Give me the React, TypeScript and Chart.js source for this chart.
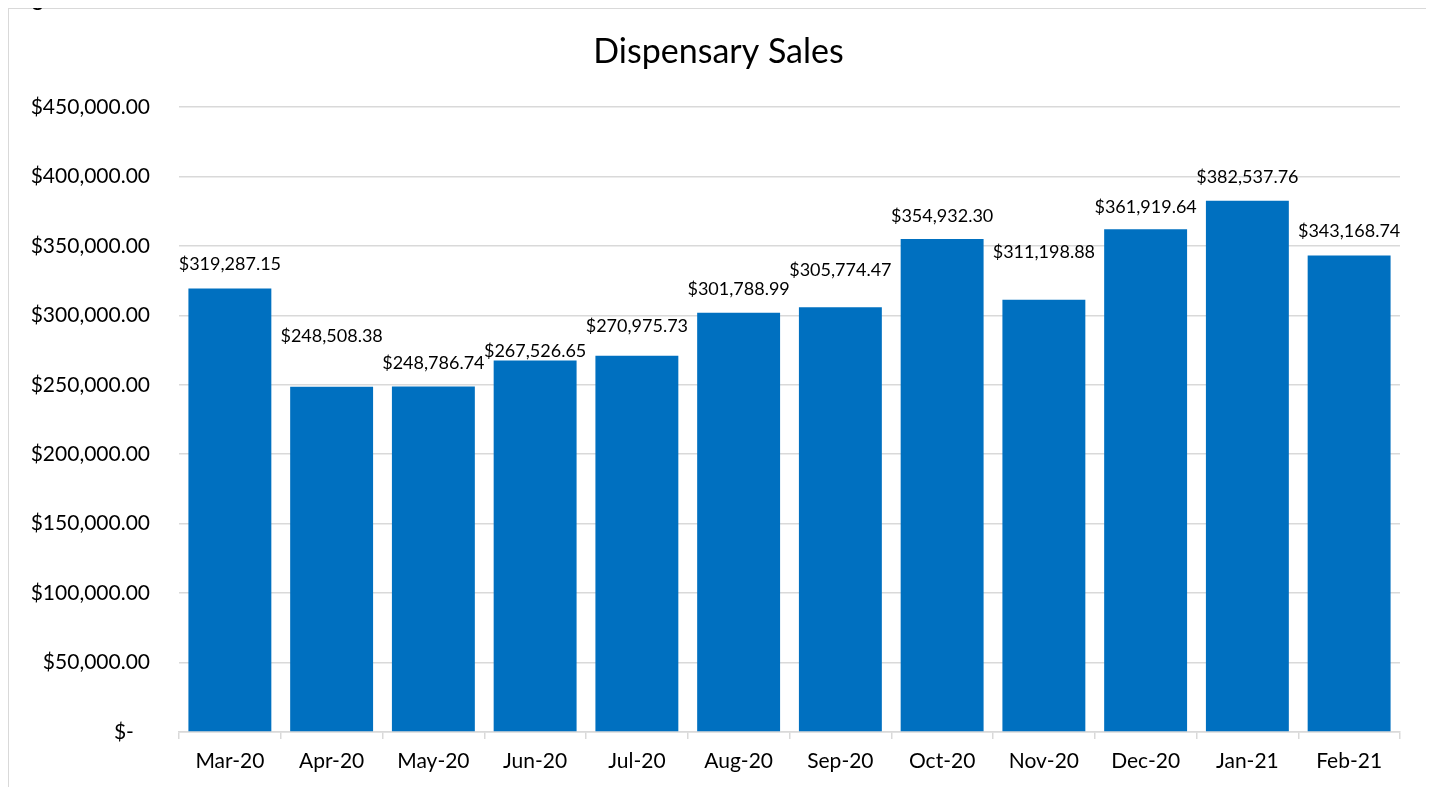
import React, { useEffect, useRef } from "react";
import { Chart, registerables } from "chart.js";

Chart.register(...registerables);

const categories = ["Mar-20", "Apr-20", "May-20", "Jun-20", "Jul-20", "Aug-20", "Sep-20", "Oct-20", "Nov-20", "Dec-20", "Jan-21", "Feb-21"];
const sales = [319287.15, 248508.38, 248786.74, 267526.65, 270975.73, 301788.99, 305774.47, 354932.3, 311198.88, 361919.64, 382537.76, 343168.74];
const yTicks = [0, 50000, 100000, 150000, 200000, 250000, 300000, 350000, 400000, 450000];
const chartTitle = "Dispensary Sales";

// distance (px) from bar top to data label centre, mimicking the reference's label placement
const labelLift = [24, 51, 23, 9, 29, 24, 37, 23, 48, 22, 24, 24];

const FONT = "Lato, 'Open Sans', sans-serif";

const money = (v: number) =>
  "$" + v.toLocaleString("en-US", { minimumFractionDigits: 2, maximumFractionDigits: 2 });

const CANVAS_W = 1419;
const CANVAS_H = 780;
const AREA_LEFT = 170;
const AREA_RIGHT = 1391;
const AREA_TOP = 98;
const AREA_BOTTOM = 723;

const overlayPlugin = {
  id: "overlay",
  afterDatasetsDraw(chart: any) {
    const ctx = chart.ctx;
    ctx.save();
    // title
    ctx.fillStyle = "#000";
    ctx.font = `34px ${FONT}`;
    ctx.textAlign = "center";
    ctx.textBaseline = "middle";
    ctx.fillText(chartTitle, CANVAS_W / 2, 43);
    // data labels
    const meta = chart.getDatasetMeta(0);
    ctx.font = `18px ${FONT}`;
    meta.data.forEach((bar: any, i: number) => {
      ctx.fillText(money(sales[i]), bar.x, bar.y - labelLift[i]);
    });
    ctx.restore();
  },
};

export default function App() {
  const ref = useRef<HTMLCanvasElement | null>(null);
  useEffect(() => {
    if (!ref.current) return;
    const chart = new Chart(ref.current, {
      type: "bar",
      data: {
        labels: categories,
        datasets: [
          {
            data: sales,
            backgroundColor: "#0070C0",
            borderWidth: 0,
            barPercentage: 0.815,
            categoryPercentage: 1,
          },
        ],
      },
      options: {
        animation: false,
        responsive: false,
        maintainAspectRatio: false,
        layout: { padding: { top: AREA_TOP, right: CANVAS_W - AREA_RIGHT, left: 0, bottom: 0 } },
        plugins: {
          legend: { display: false },
          title: { display: false },
          tooltip: { enabled: false },
        },
        scales: {
          x: {
            offset: true,
            grid: {
              offset: true,
              drawOnChartArea: false,
              drawTicks: true,
              tickLength: 7,
              color: "#d9d9d9",
              lineWidth: 1.5,
            },
            border: { display: true, color: "#d9d9d9", width: 1.5 },
            ticks: {
              color: "#000",
              font: { family: FONT, size: 21 },
              padding: 10,
              maxRotation: 0,
              autoSkip: false,
            },
            afterFit(scale: any) {
              scale.height = CANVAS_H - AREA_BOTTOM;
            },
          },
          y: {
            min: 0,
            max: 450000,
            afterBuildTicks(scale: any) {
              scale.ticks = yTicks.map((v) => ({ value: v }));
            },
            grid: { color: "#d9d9d9", lineWidth: 1.5, drawTicks: false },
            border: { display: false },
            ticks: {
              color: "#000",
              font: { family: FONT, size: 21 },
              padding: 29,
              callback: (v: any) => (Number(v) === 0 ? "$-   " : money(Number(v))),
            },
            afterFit(scale: any) {
              scale.width = AREA_LEFT;
            },
          },
        },
      },
      plugins: [overlayPlugin],
    });
    return () => chart.destroy();
  }, []);

  return (
    <div style={{ position: "relative" }}>
      <div
        style={{
          position: "absolute",
          left: 8,
          top: -21,
          font: `bold 20px ${FONT}`,
          color: "#000",
          whiteSpace: "nowrap",
        }}
      >
        Figure
      </div>
      <div
        style={{
          marginLeft: -1,
          marginTop: -1,
          width: CANVAS_W,
          height: CANVAS_H,
          border: "2px solid #d9d9d9",
          background: "#fff",
        }}
      >
        <canvas ref={ref} width={CANVAS_W} height={CANVAS_H} style={{ display: "block" }} />
      </div>
    </div>
  );
}
